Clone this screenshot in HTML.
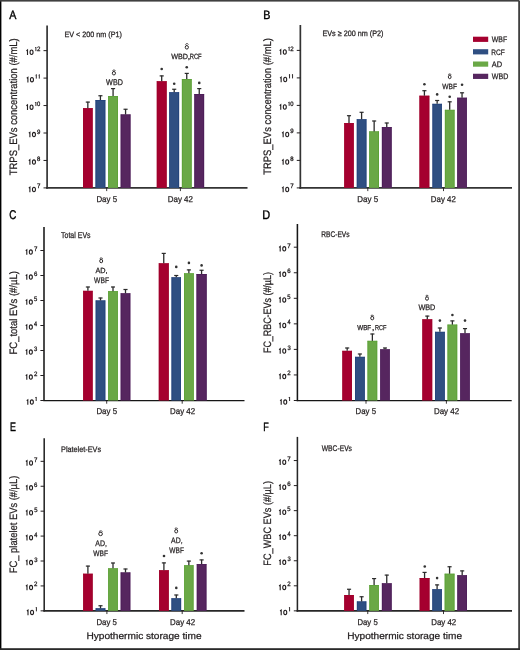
<!DOCTYPE html>
<html><head><meta charset="utf-8"><title>EV concentrations</title>
<style>
html,body{margin:0;padding:0;background:#fff;width:520px;height:650px;overflow:hidden;}
svg{display:block;text-rendering:geometricPrecision;will-change:transform;font-family:"Liberation Sans", sans-serif;}
text{stroke:#231f20;stroke-width:0.25px;}
</style></head>
<body>
<svg width="520" height="650" viewBox="0 0 520 650">
<rect x="0.00" y="0.00" width="520.00" height="650.00" fill="#ffffff"/>
<line x1="47.10" y1="25.50" x2="47.10" y2="188.80" stroke="#333" stroke-width="1.7"/>
<line x1="46.25" y1="187.90" x2="247.50" y2="187.90" stroke="#333" stroke-width="1.8"/>
<line x1="43.50" y1="187.90" x2="47.10" y2="187.90" stroke="#231f20" stroke-width="1.0"/>
<text transform="translate(36.98,188.40) scale(0.963,1)" font-family='"Liberation Sans", sans-serif' font-size="6.40" fill="#231f20" style="stroke-width:0.3px">7</text>
<path d="M29.90,192.25V187.19L28.79,188.07" fill="none" stroke="#231f20" stroke-width="1.1" stroke-linejoin="miter"/>
<ellipse cx="33.95" cy="189.50" rx="1.50" ry="2.20" fill="none" stroke="#231f20" stroke-width="1.1"/>
<line x1="43.50" y1="160.45" x2="47.10" y2="160.45" stroke="#231f20" stroke-width="1.0"/>
<text transform="translate(37.04,160.95) scale(0.947,1)" font-family='"Liberation Sans", sans-serif' font-size="6.30" fill="#231f20" style="stroke-width:0.3px">8</text>
<path d="M29.90,164.80V159.74L28.79,160.62" fill="none" stroke="#231f20" stroke-width="1.1" stroke-linejoin="miter"/>
<ellipse cx="33.95" cy="162.05" rx="1.50" ry="2.20" fill="none" stroke="#231f20" stroke-width="1.1"/>
<line x1="43.50" y1="133.00" x2="47.10" y2="133.00" stroke="#231f20" stroke-width="1.0"/>
<text transform="translate(37.02,133.50) scale(0.962,1)" font-family='"Liberation Sans", sans-serif' font-size="6.30" fill="#231f20" style="stroke-width:0.3px">9</text>
<path d="M29.90,137.35V132.29L28.79,133.17" fill="none" stroke="#231f20" stroke-width="1.1" stroke-linejoin="miter"/>
<ellipse cx="33.95" cy="134.60" rx="1.50" ry="2.20" fill="none" stroke="#231f20" stroke-width="1.1"/>
<line x1="43.50" y1="105.55" x2="47.10" y2="105.55" stroke="#231f20" stroke-width="1.0"/>
<text transform="translate(37.07,106.05) scale(0.930,1)" font-family='"Liberation Sans", sans-serif' font-size="6.30" fill="#231f20" style="stroke-width:0.3px">0</text>
<path d="M35.90,106.05V102.03L35.23,102.71" fill="none" stroke="#231f20" stroke-width="0.95" stroke-linejoin="miter"/>
<path d="M27.50,109.90V104.84L26.39,105.72" fill="none" stroke="#231f20" stroke-width="1.1" stroke-linejoin="miter"/>
<ellipse cx="31.55" cy="107.15" rx="1.50" ry="2.20" fill="none" stroke="#231f20" stroke-width="1.1"/>
<line x1="43.50" y1="78.10" x2="47.10" y2="78.10" stroke="#231f20" stroke-width="1.0"/>
<path d="M39.30,78.60V74.58L38.63,75.26" fill="none" stroke="#231f20" stroke-width="0.95" stroke-linejoin="miter"/>
<path d="M36.30,78.60V74.58L35.63,75.26" fill="none" stroke="#231f20" stroke-width="0.95" stroke-linejoin="miter"/>
<path d="M27.90,82.45V77.39L26.79,78.27" fill="none" stroke="#231f20" stroke-width="1.1" stroke-linejoin="miter"/>
<ellipse cx="31.95" cy="79.70" rx="1.50" ry="2.20" fill="none" stroke="#231f20" stroke-width="1.1"/>
<line x1="43.50" y1="50.65" x2="47.10" y2="50.65" stroke="#231f20" stroke-width="1.0"/>
<text transform="translate(36.99,51.15) scale(0.975,1)" font-family='"Liberation Sans", sans-serif' font-size="6.30" fill="#231f20" style="stroke-width:0.3px">2</text>
<path d="M35.90,51.15V47.13L35.23,47.81" fill="none" stroke="#231f20" stroke-width="0.95" stroke-linejoin="miter"/>
<path d="M27.50,55.00V49.94L26.39,50.82" fill="none" stroke="#231f20" stroke-width="1.1" stroke-linejoin="miter"/>
<ellipse cx="31.55" cy="52.25" rx="1.50" ry="2.20" fill="none" stroke="#231f20" stroke-width="1.1"/>
<line x1="106.70" y1="187.90" x2="106.70" y2="191.10" stroke="#231f20" stroke-width="0.9"/>
<line x1="180.40" y1="187.90" x2="180.40" y2="191.10" stroke="#231f20" stroke-width="0.9"/>
<rect x="83.05" y="108.15" width="9.55" height="79.75" fill="#a5002f"/>
<rect x="83.05" y="108.15" width="0.70" height="79.75" fill="#9e0029"/>
<rect x="91.90" y="108.15" width="0.70" height="79.75" fill="#9e0029"/>
<rect x="83.05" y="108.15" width="9.55" height="0.60" fill="#9e0029"/>
<line x1="87.83" y1="101.80" x2="87.83" y2="108.15" stroke="#2b2b2b" stroke-width="1.3"/>
<line x1="85.78" y1="102.10" x2="89.88" y2="102.10" stroke="#2b2b2b" stroke-width="1.2"/>
<rect x="95.55" y="100.00" width="9.75" height="87.90" fill="#2f4f82"/>
<rect x="95.55" y="100.00" width="0.70" height="87.90" fill="#1f3f7a"/>
<rect x="104.60" y="100.00" width="0.70" height="87.90" fill="#1f3f7a"/>
<rect x="95.55" y="100.00" width="9.75" height="0.60" fill="#1f3f7a"/>
<line x1="100.42" y1="95.45" x2="100.42" y2="100.00" stroke="#2b2b2b" stroke-width="1.3"/>
<line x1="98.38" y1="95.75" x2="102.47" y2="95.75" stroke="#2b2b2b" stroke-width="1.2"/>
<rect x="108.20" y="96.00" width="9.75" height="91.90" fill="#6aa846"/>
<rect x="108.20" y="96.00" width="0.70" height="91.90" fill="#58a032"/>
<rect x="117.25" y="96.00" width="0.70" height="91.90" fill="#58a032"/>
<rect x="108.20" y="96.00" width="9.75" height="0.60" fill="#58a032"/>
<line x1="113.08" y1="88.30" x2="113.08" y2="96.00" stroke="#2b2b2b" stroke-width="1.3"/>
<line x1="111.03" y1="88.60" x2="115.12" y2="88.60" stroke="#2b2b2b" stroke-width="1.2"/>
<rect x="120.70" y="114.50" width="9.75" height="73.40" fill="#56265f"/>
<rect x="120.70" y="114.50" width="0.70" height="73.40" fill="#4a1a56"/>
<rect x="129.75" y="114.50" width="0.70" height="73.40" fill="#4a1a56"/>
<rect x="120.70" y="114.50" width="9.75" height="0.60" fill="#4a1a56"/>
<line x1="125.57" y1="108.95" x2="125.57" y2="114.50" stroke="#2b2b2b" stroke-width="1.3"/>
<line x1="123.52" y1="109.25" x2="127.62" y2="109.25" stroke="#2b2b2b" stroke-width="1.2"/>
<rect x="156.80" y="81.25" width="9.80" height="106.65" fill="#a5002f"/>
<rect x="156.80" y="81.25" width="0.70" height="106.65" fill="#9e0029"/>
<rect x="165.90" y="81.25" width="0.70" height="106.65" fill="#9e0029"/>
<rect x="156.80" y="81.25" width="9.80" height="0.60" fill="#9e0029"/>
<line x1="161.70" y1="75.60" x2="161.70" y2="81.25" stroke="#2b2b2b" stroke-width="1.3"/>
<line x1="159.65" y1="75.90" x2="163.75" y2="75.90" stroke="#2b2b2b" stroke-width="1.2"/>
<rect x="169.30" y="92.25" width="9.80" height="95.65" fill="#2f4f82"/>
<rect x="169.30" y="92.25" width="0.70" height="95.65" fill="#1f3f7a"/>
<rect x="178.40" y="92.25" width="0.70" height="95.65" fill="#1f3f7a"/>
<rect x="169.30" y="92.25" width="9.80" height="0.60" fill="#1f3f7a"/>
<line x1="174.20" y1="88.95" x2="174.20" y2="92.25" stroke="#2b2b2b" stroke-width="1.3"/>
<line x1="172.15" y1="89.25" x2="176.25" y2="89.25" stroke="#2b2b2b" stroke-width="1.2"/>
<rect x="181.90" y="79.00" width="9.70" height="108.90" fill="#6aa846"/>
<rect x="181.90" y="79.00" width="0.70" height="108.90" fill="#58a032"/>
<rect x="190.90" y="79.00" width="0.70" height="108.90" fill="#58a032"/>
<rect x="181.90" y="79.00" width="9.70" height="0.60" fill="#58a032"/>
<line x1="186.75" y1="73.10" x2="186.75" y2="79.00" stroke="#2b2b2b" stroke-width="1.3"/>
<line x1="184.70" y1="73.40" x2="188.80" y2="73.40" stroke="#2b2b2b" stroke-width="1.2"/>
<rect x="194.40" y="94.00" width="9.70" height="93.90" fill="#56265f"/>
<rect x="194.40" y="94.00" width="0.70" height="93.90" fill="#4a1a56"/>
<rect x="203.40" y="94.00" width="0.70" height="93.90" fill="#4a1a56"/>
<rect x="194.40" y="94.00" width="9.70" height="0.60" fill="#4a1a56"/>
<line x1="199.25" y1="88.30" x2="199.25" y2="94.00" stroke="#2b2b2b" stroke-width="1.3"/>
<line x1="197.20" y1="88.60" x2="201.30" y2="88.60" stroke="#2b2b2b" stroke-width="1.2"/>
<circle cx="161.70" cy="69.00" r="1.3" fill="#333"/>
<circle cx="174.20" cy="83.75" r="1.3" fill="#333"/>
<circle cx="186.75" cy="67.25" r="1.3" fill="#333"/>
<circle cx="199.25" cy="82.90" r="1.3" fill="#333"/>
<line x1="300.35" y1="25.00" x2="300.35" y2="188.80" stroke="#333" stroke-width="1.7"/>
<line x1="299.50" y1="187.90" x2="512.00" y2="187.90" stroke="#333" stroke-width="1.8"/>
<line x1="296.75" y1="187.90" x2="300.35" y2="187.90" stroke="#231f20" stroke-width="1.0"/>
<text transform="translate(290.23,188.40) scale(0.963,1)" font-family='"Liberation Sans", sans-serif' font-size="6.40" fill="#231f20" style="stroke-width:0.3px">7</text>
<path d="M283.15,192.25V187.19L282.03,188.07" fill="none" stroke="#231f20" stroke-width="1.1" stroke-linejoin="miter"/>
<ellipse cx="287.20" cy="189.50" rx="1.50" ry="2.20" fill="none" stroke="#231f20" stroke-width="1.1"/>
<line x1="296.75" y1="160.40" x2="300.35" y2="160.40" stroke="#231f20" stroke-width="1.0"/>
<text transform="translate(290.29,160.90) scale(0.947,1)" font-family='"Liberation Sans", sans-serif' font-size="6.30" fill="#231f20" style="stroke-width:0.3px">8</text>
<path d="M283.15,164.75V159.69L282.03,160.57" fill="none" stroke="#231f20" stroke-width="1.1" stroke-linejoin="miter"/>
<ellipse cx="287.20" cy="162.00" rx="1.50" ry="2.20" fill="none" stroke="#231f20" stroke-width="1.1"/>
<line x1="296.75" y1="132.90" x2="300.35" y2="132.90" stroke="#231f20" stroke-width="1.0"/>
<text transform="translate(290.27,133.40) scale(0.962,1)" font-family='"Liberation Sans", sans-serif' font-size="6.30" fill="#231f20" style="stroke-width:0.3px">9</text>
<path d="M283.15,137.25V132.19L282.03,133.07" fill="none" stroke="#231f20" stroke-width="1.1" stroke-linejoin="miter"/>
<ellipse cx="287.20" cy="134.50" rx="1.50" ry="2.20" fill="none" stroke="#231f20" stroke-width="1.1"/>
<line x1="296.75" y1="105.40" x2="300.35" y2="105.40" stroke="#231f20" stroke-width="1.0"/>
<text transform="translate(290.32,105.90) scale(0.930,1)" font-family='"Liberation Sans", sans-serif' font-size="6.30" fill="#231f20" style="stroke-width:0.3px">0</text>
<path d="M289.15,105.90V101.88L288.48,102.56" fill="none" stroke="#231f20" stroke-width="0.95" stroke-linejoin="miter"/>
<path d="M280.75,109.75V104.69L279.63,105.57" fill="none" stroke="#231f20" stroke-width="1.1" stroke-linejoin="miter"/>
<ellipse cx="284.80" cy="107.00" rx="1.50" ry="2.20" fill="none" stroke="#231f20" stroke-width="1.1"/>
<line x1="296.75" y1="77.90" x2="300.35" y2="77.90" stroke="#231f20" stroke-width="1.0"/>
<path d="M292.55,78.40V74.38L291.88,75.06" fill="none" stroke="#231f20" stroke-width="0.95" stroke-linejoin="miter"/>
<path d="M289.55,78.40V74.38L288.88,75.06" fill="none" stroke="#231f20" stroke-width="0.95" stroke-linejoin="miter"/>
<path d="M281.15,82.25V77.19L280.03,78.07" fill="none" stroke="#231f20" stroke-width="1.1" stroke-linejoin="miter"/>
<ellipse cx="285.20" cy="79.50" rx="1.50" ry="2.20" fill="none" stroke="#231f20" stroke-width="1.1"/>
<line x1="296.75" y1="50.40" x2="300.35" y2="50.40" stroke="#231f20" stroke-width="1.0"/>
<text transform="translate(290.24,50.90) scale(0.975,1)" font-family='"Liberation Sans", sans-serif' font-size="6.30" fill="#231f20" style="stroke-width:0.3px">2</text>
<path d="M289.15,50.90V46.88L288.48,47.56" fill="none" stroke="#231f20" stroke-width="0.95" stroke-linejoin="miter"/>
<path d="M280.75,54.75V49.69L279.63,50.57" fill="none" stroke="#231f20" stroke-width="1.1" stroke-linejoin="miter"/>
<ellipse cx="284.80" cy="52.00" rx="1.50" ry="2.20" fill="none" stroke="#231f20" stroke-width="1.1"/>
<line x1="367.80" y1="187.90" x2="367.80" y2="191.10" stroke="#231f20" stroke-width="0.9"/>
<line x1="443.50" y1="187.90" x2="443.50" y2="191.10" stroke="#231f20" stroke-width="0.9"/>
<rect x="344.30" y="123.05" width="9.40" height="64.85" fill="#a5002f"/>
<rect x="344.30" y="123.05" width="0.70" height="64.85" fill="#9e0029"/>
<rect x="353.00" y="123.05" width="0.70" height="64.85" fill="#9e0029"/>
<rect x="344.30" y="123.05" width="9.40" height="0.60" fill="#9e0029"/>
<line x1="349.00" y1="115.40" x2="349.00" y2="123.05" stroke="#2b2b2b" stroke-width="1.3"/>
<line x1="346.95" y1="115.70" x2="351.05" y2="115.70" stroke="#2b2b2b" stroke-width="1.2"/>
<rect x="356.80" y="119.25" width="9.60" height="68.65" fill="#2f4f82"/>
<rect x="356.80" y="119.25" width="0.70" height="68.65" fill="#1f3f7a"/>
<rect x="365.70" y="119.25" width="0.70" height="68.65" fill="#1f3f7a"/>
<rect x="356.80" y="119.25" width="9.60" height="0.60" fill="#1f3f7a"/>
<line x1="361.60" y1="112.00" x2="361.60" y2="119.25" stroke="#2b2b2b" stroke-width="1.3"/>
<line x1="359.55" y1="112.30" x2="363.65" y2="112.30" stroke="#2b2b2b" stroke-width="1.2"/>
<rect x="369.30" y="131.45" width="9.70" height="56.45" fill="#6aa846"/>
<rect x="369.30" y="131.45" width="0.70" height="56.45" fill="#58a032"/>
<rect x="378.30" y="131.45" width="0.70" height="56.45" fill="#58a032"/>
<rect x="369.30" y="131.45" width="9.70" height="0.60" fill="#58a032"/>
<line x1="374.15" y1="120.70" x2="374.15" y2="131.45" stroke="#2b2b2b" stroke-width="1.3"/>
<line x1="372.10" y1="121.00" x2="376.20" y2="121.00" stroke="#2b2b2b" stroke-width="1.2"/>
<rect x="381.90" y="127.05" width="9.70" height="60.85" fill="#56265f"/>
<rect x="381.90" y="127.05" width="0.70" height="60.85" fill="#4a1a56"/>
<rect x="390.90" y="127.05" width="0.70" height="60.85" fill="#4a1a56"/>
<rect x="381.90" y="127.05" width="9.70" height="0.60" fill="#4a1a56"/>
<line x1="386.75" y1="122.70" x2="386.75" y2="127.05" stroke="#2b2b2b" stroke-width="1.3"/>
<line x1="384.70" y1="123.00" x2="388.80" y2="123.00" stroke="#2b2b2b" stroke-width="1.2"/>
<rect x="419.50" y="95.75" width="9.80" height="92.15" fill="#a5002f"/>
<rect x="419.50" y="95.75" width="0.70" height="92.15" fill="#9e0029"/>
<rect x="428.60" y="95.75" width="0.70" height="92.15" fill="#9e0029"/>
<rect x="419.50" y="95.75" width="9.80" height="0.60" fill="#9e0029"/>
<line x1="424.40" y1="90.40" x2="424.40" y2="95.75" stroke="#2b2b2b" stroke-width="1.3"/>
<line x1="422.35" y1="90.70" x2="426.45" y2="90.70" stroke="#2b2b2b" stroke-width="1.2"/>
<rect x="432.50" y="103.85" width="9.30" height="84.05" fill="#2f4f82"/>
<rect x="432.50" y="103.85" width="0.70" height="84.05" fill="#1f3f7a"/>
<rect x="441.10" y="103.85" width="0.70" height="84.05" fill="#1f3f7a"/>
<rect x="432.50" y="103.85" width="9.30" height="0.60" fill="#1f3f7a"/>
<line x1="437.15" y1="100.20" x2="437.15" y2="103.85" stroke="#2b2b2b" stroke-width="1.3"/>
<line x1="435.10" y1="100.50" x2="439.20" y2="100.50" stroke="#2b2b2b" stroke-width="1.2"/>
<rect x="444.90" y="109.85" width="9.60" height="78.05" fill="#6aa846"/>
<rect x="444.90" y="109.85" width="0.70" height="78.05" fill="#58a032"/>
<rect x="453.80" y="109.85" width="0.70" height="78.05" fill="#58a032"/>
<rect x="444.90" y="109.85" width="9.60" height="0.60" fill="#58a032"/>
<line x1="449.70" y1="101.50" x2="449.70" y2="109.85" stroke="#2b2b2b" stroke-width="1.3"/>
<line x1="447.65" y1="101.80" x2="451.75" y2="101.80" stroke="#2b2b2b" stroke-width="1.2"/>
<rect x="457.30" y="97.75" width="9.50" height="90.15" fill="#56265f"/>
<rect x="457.30" y="97.75" width="0.70" height="90.15" fill="#4a1a56"/>
<rect x="466.10" y="97.75" width="0.70" height="90.15" fill="#4a1a56"/>
<rect x="457.30" y="97.75" width="9.50" height="0.60" fill="#4a1a56"/>
<line x1="462.05" y1="92.50" x2="462.05" y2="97.75" stroke="#2b2b2b" stroke-width="1.3"/>
<line x1="460.00" y1="92.80" x2="464.10" y2="92.80" stroke="#2b2b2b" stroke-width="1.2"/>
<circle cx="424.40" cy="84.20" r="1.3" fill="#333"/>
<circle cx="437.15" cy="94.40" r="1.3" fill="#333"/>
<circle cx="449.70" cy="96.70" r="1.3" fill="#333"/>
<circle cx="462.05" cy="84.80" r="1.3" fill="#333"/>
<rect x="473.00" y="36.70" width="15.20" height="5.20" fill="#a5002f"/>
<text transform="translate(491.77,42.10) scale(0.868,1)" font-family='"Liberation Sans", sans-serif' font-size="7.99" fill="#231f20">WBF</text>
<rect x="473.00" y="49.20" width="15.20" height="5.20" fill="#2f4f82"/>
<text transform="translate(491.26,54.60) scale(0.834,1)" font-family='"Liberation Sans", sans-serif' font-size="7.88" fill="#231f20">RCF</text>
<rect x="473.00" y="61.50" width="15.20" height="5.20" fill="#6aa846"/>
<text transform="translate(491.79,66.90) scale(0.934,1)" font-family='"Liberation Sans", sans-serif' font-size="7.99" fill="#231f20">AD</text>
<rect x="473.00" y="73.75" width="15.20" height="5.20" fill="#56265f"/>
<text transform="translate(491.77,79.15) scale(0.883,1)" font-family='"Liberation Sans", sans-serif' font-size="7.99" fill="#231f20">WBD</text>
<line x1="44.00" y1="227.00" x2="44.00" y2="401.12" stroke="#161616" stroke-width="1.55"/>
<line x1="43.23" y1="400.50" x2="244.50" y2="400.50" stroke="#161616" stroke-width="1.25"/>
<line x1="40.40" y1="400.50" x2="44.00" y2="400.50" stroke="#231f20" stroke-width="1.0"/>
<path d="M36.20,401.00V396.98L35.53,397.66" fill="none" stroke="#231f20" stroke-width="0.95" stroke-linejoin="miter"/>
<path d="M27.80,404.85V399.79L26.69,400.67" fill="none" stroke="#231f20" stroke-width="1.1" stroke-linejoin="miter"/>
<ellipse cx="31.85" cy="402.10" rx="1.50" ry="2.20" fill="none" stroke="#231f20" stroke-width="1.1"/>
<line x1="40.40" y1="375.50" x2="44.00" y2="375.50" stroke="#231f20" stroke-width="1.0"/>
<text transform="translate(33.89,376.00) scale(0.975,1)" font-family='"Liberation Sans", sans-serif' font-size="6.30" fill="#231f20" style="stroke-width:0.3px">2</text>
<path d="M26.80,379.85V374.79L25.69,375.67" fill="none" stroke="#231f20" stroke-width="1.1" stroke-linejoin="miter"/>
<ellipse cx="30.85" cy="377.10" rx="1.50" ry="2.20" fill="none" stroke="#231f20" stroke-width="1.1"/>
<line x1="40.40" y1="350.50" x2="44.00" y2="350.50" stroke="#231f20" stroke-width="1.0"/>
<text transform="translate(33.98,351.00) scale(0.937,1)" font-family='"Liberation Sans", sans-serif' font-size="6.30" fill="#231f20" style="stroke-width:0.3px">3</text>
<path d="M26.80,354.85V349.79L25.69,350.67" fill="none" stroke="#231f20" stroke-width="1.1" stroke-linejoin="miter"/>
<ellipse cx="30.85" cy="352.10" rx="1.50" ry="2.20" fill="none" stroke="#231f20" stroke-width="1.1"/>
<line x1="40.40" y1="325.50" x2="44.00" y2="325.50" stroke="#231f20" stroke-width="1.0"/>
<text transform="translate(34.07,326.00) scale(0.869,1)" font-family='"Liberation Sans", sans-serif' font-size="6.40" fill="#231f20" style="stroke-width:0.3px">4</text>
<path d="M26.80,329.85V324.79L25.69,325.67" fill="none" stroke="#231f20" stroke-width="1.1" stroke-linejoin="miter"/>
<ellipse cx="30.85" cy="327.10" rx="1.50" ry="2.20" fill="none" stroke="#231f20" stroke-width="1.1"/>
<line x1="40.40" y1="300.50" x2="44.00" y2="300.50" stroke="#231f20" stroke-width="1.0"/>
<text transform="translate(33.96,301.00) scale(0.923,1)" font-family='"Liberation Sans", sans-serif' font-size="6.40" fill="#231f20" style="stroke-width:0.3px">5</text>
<path d="M26.80,304.85V299.79L25.69,300.67" fill="none" stroke="#231f20" stroke-width="1.1" stroke-linejoin="miter"/>
<ellipse cx="30.85" cy="302.10" rx="1.50" ry="2.20" fill="none" stroke="#231f20" stroke-width="1.1"/>
<line x1="40.40" y1="275.50" x2="44.00" y2="275.50" stroke="#231f20" stroke-width="1.0"/>
<text transform="translate(33.89,276.00) scale(0.963,1)" font-family='"Liberation Sans", sans-serif' font-size="6.30" fill="#231f20" style="stroke-width:0.3px">6</text>
<path d="M26.80,279.85V274.79L25.69,275.67" fill="none" stroke="#231f20" stroke-width="1.1" stroke-linejoin="miter"/>
<ellipse cx="30.85" cy="277.10" rx="1.50" ry="2.20" fill="none" stroke="#231f20" stroke-width="1.1"/>
<line x1="40.40" y1="250.50" x2="44.00" y2="250.50" stroke="#231f20" stroke-width="1.0"/>
<text transform="translate(33.88,251.00) scale(0.963,1)" font-family='"Liberation Sans", sans-serif' font-size="6.40" fill="#231f20" style="stroke-width:0.3px">7</text>
<path d="M26.80,254.85V249.79L25.69,250.67" fill="none" stroke="#231f20" stroke-width="1.1" stroke-linejoin="miter"/>
<ellipse cx="30.85" cy="252.10" rx="1.50" ry="2.20" fill="none" stroke="#231f20" stroke-width="1.1"/>
<line x1="106.70" y1="400.50" x2="106.70" y2="403.70" stroke="#231f20" stroke-width="0.9"/>
<line x1="182.20" y1="400.50" x2="182.20" y2="403.70" stroke="#231f20" stroke-width="0.9"/>
<rect x="83.20" y="290.85" width="9.40" height="109.65" fill="#a5002f"/>
<rect x="83.20" y="290.85" width="0.70" height="109.65" fill="#9e0029"/>
<rect x="91.90" y="290.85" width="0.70" height="109.65" fill="#9e0029"/>
<rect x="83.20" y="290.85" width="9.40" height="0.60" fill="#9e0029"/>
<line x1="87.90" y1="286.70" x2="87.90" y2="290.85" stroke="#2b2b2b" stroke-width="1.3"/>
<line x1="85.85" y1="287.00" x2="89.95" y2="287.00" stroke="#2b2b2b" stroke-width="1.2"/>
<rect x="95.70" y="300.50" width="9.60" height="100.00" fill="#2f4f82"/>
<rect x="95.70" y="300.50" width="0.70" height="100.00" fill="#1f3f7a"/>
<rect x="104.60" y="300.50" width="0.70" height="100.00" fill="#1f3f7a"/>
<rect x="95.70" y="300.50" width="9.60" height="0.60" fill="#1f3f7a"/>
<line x1="100.50" y1="297.70" x2="100.50" y2="300.50" stroke="#2b2b2b" stroke-width="1.3"/>
<line x1="98.45" y1="298.00" x2="102.55" y2="298.00" stroke="#2b2b2b" stroke-width="1.2"/>
<rect x="108.20" y="291.15" width="9.60" height="109.35" fill="#6aa846"/>
<rect x="108.20" y="291.15" width="0.70" height="109.35" fill="#58a032"/>
<rect x="117.10" y="291.15" width="0.70" height="109.35" fill="#58a032"/>
<rect x="108.20" y="291.15" width="9.60" height="0.60" fill="#58a032"/>
<line x1="113.00" y1="286.70" x2="113.00" y2="291.15" stroke="#2b2b2b" stroke-width="1.3"/>
<line x1="110.95" y1="287.00" x2="115.05" y2="287.00" stroke="#2b2b2b" stroke-width="1.2"/>
<rect x="120.70" y="293.35" width="9.60" height="107.15" fill="#56265f"/>
<rect x="120.70" y="293.35" width="0.70" height="107.15" fill="#4a1a56"/>
<rect x="129.60" y="293.35" width="0.70" height="107.15" fill="#4a1a56"/>
<rect x="120.70" y="293.35" width="9.60" height="0.60" fill="#4a1a56"/>
<line x1="125.50" y1="289.20" x2="125.50" y2="293.35" stroke="#2b2b2b" stroke-width="1.3"/>
<line x1="123.45" y1="289.50" x2="127.55" y2="289.50" stroke="#2b2b2b" stroke-width="1.2"/>
<rect x="158.80" y="263.35" width="9.90" height="137.15" fill="#a5002f"/>
<rect x="158.80" y="263.35" width="0.70" height="137.15" fill="#9e0029"/>
<rect x="168.00" y="263.35" width="0.70" height="137.15" fill="#9e0029"/>
<rect x="158.80" y="263.35" width="9.90" height="0.60" fill="#9e0029"/>
<line x1="163.75" y1="253.10" x2="163.75" y2="263.35" stroke="#2b2b2b" stroke-width="1.3"/>
<line x1="161.70" y1="253.40" x2="165.80" y2="253.40" stroke="#2b2b2b" stroke-width="1.2"/>
<rect x="171.55" y="277.35" width="9.40" height="123.15" fill="#2f4f82"/>
<rect x="171.55" y="277.35" width="0.70" height="123.15" fill="#1f3f7a"/>
<rect x="180.25" y="277.35" width="0.70" height="123.15" fill="#1f3f7a"/>
<rect x="171.55" y="277.35" width="9.40" height="0.60" fill="#1f3f7a"/>
<line x1="176.25" y1="275.20" x2="176.25" y2="277.35" stroke="#2b2b2b" stroke-width="1.3"/>
<line x1="174.20" y1="275.50" x2="178.30" y2="275.50" stroke="#2b2b2b" stroke-width="1.2"/>
<rect x="184.05" y="273.35" width="9.65" height="127.15" fill="#6aa846"/>
<rect x="184.05" y="273.35" width="0.70" height="127.15" fill="#58a032"/>
<rect x="193.00" y="273.35" width="0.70" height="127.15" fill="#58a032"/>
<rect x="184.05" y="273.35" width="9.65" height="0.60" fill="#58a032"/>
<line x1="188.88" y1="269.60" x2="188.88" y2="273.35" stroke="#2b2b2b" stroke-width="1.3"/>
<line x1="186.82" y1="269.90" x2="190.93" y2="269.90" stroke="#2b2b2b" stroke-width="1.2"/>
<rect x="196.55" y="274.00" width="10.05" height="126.50" fill="#56265f"/>
<rect x="196.55" y="274.00" width="0.70" height="126.50" fill="#4a1a56"/>
<rect x="205.90" y="274.00" width="0.70" height="126.50" fill="#4a1a56"/>
<rect x="196.55" y="274.00" width="10.05" height="0.60" fill="#4a1a56"/>
<line x1="201.57" y1="269.95" x2="201.57" y2="274.00" stroke="#2b2b2b" stroke-width="1.3"/>
<line x1="199.52" y1="270.25" x2="203.62" y2="270.25" stroke="#2b2b2b" stroke-width="1.2"/>
<circle cx="176.25" cy="266.90" r="1.3" fill="#333"/>
<circle cx="188.90" cy="262.90" r="1.3" fill="#333"/>
<circle cx="201.60" cy="265.40" r="1.3" fill="#333"/>
<line x1="297.40" y1="224.00" x2="297.40" y2="401.12" stroke="#161616" stroke-width="1.55"/>
<line x1="296.62" y1="400.50" x2="511.70" y2="400.50" stroke="#161616" stroke-width="1.25"/>
<line x1="293.80" y1="400.50" x2="297.40" y2="400.50" stroke="#231f20" stroke-width="1.0"/>
<path d="M289.60,401.00V396.98L288.93,397.66" fill="none" stroke="#231f20" stroke-width="0.95" stroke-linejoin="miter"/>
<path d="M281.20,404.85V399.79L280.08,400.67" fill="none" stroke="#231f20" stroke-width="1.1" stroke-linejoin="miter"/>
<ellipse cx="285.25" cy="402.10" rx="1.50" ry="2.20" fill="none" stroke="#231f20" stroke-width="1.1"/>
<line x1="293.80" y1="374.95" x2="297.40" y2="374.95" stroke="#231f20" stroke-width="1.0"/>
<text transform="translate(287.29,375.45) scale(0.975,1)" font-family='"Liberation Sans", sans-serif' font-size="6.30" fill="#231f20" style="stroke-width:0.3px">2</text>
<path d="M280.20,379.30V374.24L279.08,375.12" fill="none" stroke="#231f20" stroke-width="1.1" stroke-linejoin="miter"/>
<ellipse cx="284.25" cy="376.55" rx="1.50" ry="2.20" fill="none" stroke="#231f20" stroke-width="1.1"/>
<line x1="293.80" y1="349.40" x2="297.40" y2="349.40" stroke="#231f20" stroke-width="1.0"/>
<text transform="translate(287.38,349.90) scale(0.937,1)" font-family='"Liberation Sans", sans-serif' font-size="6.30" fill="#231f20" style="stroke-width:0.3px">3</text>
<path d="M280.20,353.75V348.69L279.08,349.57" fill="none" stroke="#231f20" stroke-width="1.1" stroke-linejoin="miter"/>
<ellipse cx="284.25" cy="351.00" rx="1.50" ry="2.20" fill="none" stroke="#231f20" stroke-width="1.1"/>
<line x1="293.80" y1="323.85" x2="297.40" y2="323.85" stroke="#231f20" stroke-width="1.0"/>
<text transform="translate(287.47,324.35) scale(0.869,1)" font-family='"Liberation Sans", sans-serif' font-size="6.40" fill="#231f20" style="stroke-width:0.3px">4</text>
<path d="M280.20,328.20V323.14L279.08,324.02" fill="none" stroke="#231f20" stroke-width="1.1" stroke-linejoin="miter"/>
<ellipse cx="284.25" cy="325.45" rx="1.50" ry="2.20" fill="none" stroke="#231f20" stroke-width="1.1"/>
<line x1="293.80" y1="298.30" x2="297.40" y2="298.30" stroke="#231f20" stroke-width="1.0"/>
<text transform="translate(287.36,298.80) scale(0.923,1)" font-family='"Liberation Sans", sans-serif' font-size="6.40" fill="#231f20" style="stroke-width:0.3px">5</text>
<path d="M280.20,302.65V297.59L279.08,298.47" fill="none" stroke="#231f20" stroke-width="1.1" stroke-linejoin="miter"/>
<ellipse cx="284.25" cy="299.90" rx="1.50" ry="2.20" fill="none" stroke="#231f20" stroke-width="1.1"/>
<line x1="293.80" y1="272.75" x2="297.40" y2="272.75" stroke="#231f20" stroke-width="1.0"/>
<text transform="translate(287.29,273.25) scale(0.963,1)" font-family='"Liberation Sans", sans-serif' font-size="6.30" fill="#231f20" style="stroke-width:0.3px">6</text>
<path d="M280.20,277.10V272.04L279.08,272.92" fill="none" stroke="#231f20" stroke-width="1.1" stroke-linejoin="miter"/>
<ellipse cx="284.25" cy="274.35" rx="1.50" ry="2.20" fill="none" stroke="#231f20" stroke-width="1.1"/>
<line x1="293.80" y1="247.20" x2="297.40" y2="247.20" stroke="#231f20" stroke-width="1.0"/>
<text transform="translate(287.28,247.70) scale(0.963,1)" font-family='"Liberation Sans", sans-serif' font-size="6.40" fill="#231f20" style="stroke-width:0.3px">7</text>
<path d="M280.20,251.55V246.49L279.08,247.37" fill="none" stroke="#231f20" stroke-width="1.1" stroke-linejoin="miter"/>
<ellipse cx="284.25" cy="248.80" rx="1.50" ry="2.20" fill="none" stroke="#231f20" stroke-width="1.1"/>
<line x1="366.00" y1="400.50" x2="366.00" y2="403.70" stroke="#231f20" stroke-width="0.9"/>
<line x1="446.40" y1="400.50" x2="446.40" y2="403.70" stroke="#231f20" stroke-width="0.9"/>
<rect x="342.40" y="350.85" width="9.55" height="49.65" fill="#a5002f"/>
<rect x="342.40" y="350.85" width="0.70" height="49.65" fill="#9e0029"/>
<rect x="351.25" y="350.85" width="0.70" height="49.65" fill="#9e0029"/>
<rect x="342.40" y="350.85" width="9.55" height="0.60" fill="#9e0029"/>
<line x1="347.18" y1="347.70" x2="347.18" y2="350.85" stroke="#2b2b2b" stroke-width="1.3"/>
<line x1="345.12" y1="348.00" x2="349.23" y2="348.00" stroke="#2b2b2b" stroke-width="1.2"/>
<rect x="355.05" y="356.85" width="9.65" height="43.65" fill="#2f4f82"/>
<rect x="355.05" y="356.85" width="0.70" height="43.65" fill="#1f3f7a"/>
<rect x="364.00" y="356.85" width="0.70" height="43.65" fill="#1f3f7a"/>
<rect x="355.05" y="356.85" width="9.65" height="0.60" fill="#1f3f7a"/>
<line x1="359.88" y1="353.70" x2="359.88" y2="356.85" stroke="#2b2b2b" stroke-width="1.3"/>
<line x1="357.82" y1="354.00" x2="361.93" y2="354.00" stroke="#2b2b2b" stroke-width="1.2"/>
<rect x="367.55" y="340.85" width="9.65" height="59.65" fill="#6aa846"/>
<rect x="367.55" y="340.85" width="0.70" height="59.65" fill="#58a032"/>
<rect x="376.50" y="340.85" width="0.70" height="59.65" fill="#58a032"/>
<rect x="367.55" y="340.85" width="9.65" height="0.60" fill="#58a032"/>
<line x1="372.38" y1="333.70" x2="372.38" y2="340.85" stroke="#2b2b2b" stroke-width="1.3"/>
<line x1="370.32" y1="334.00" x2="374.43" y2="334.00" stroke="#2b2b2b" stroke-width="1.2"/>
<rect x="380.30" y="349.35" width="9.40" height="51.15" fill="#56265f"/>
<rect x="380.30" y="349.35" width="0.70" height="51.15" fill="#4a1a56"/>
<rect x="389.00" y="349.35" width="0.70" height="51.15" fill="#4a1a56"/>
<rect x="380.30" y="349.35" width="9.40" height="0.60" fill="#4a1a56"/>
<line x1="385.00" y1="347.70" x2="385.00" y2="349.35" stroke="#2b2b2b" stroke-width="1.3"/>
<line x1="382.95" y1="348.00" x2="387.05" y2="348.00" stroke="#2b2b2b" stroke-width="1.2"/>
<rect x="422.40" y="319.35" width="9.80" height="81.15" fill="#a5002f"/>
<rect x="422.40" y="319.35" width="0.70" height="81.15" fill="#9e0029"/>
<rect x="431.50" y="319.35" width="0.70" height="81.15" fill="#9e0029"/>
<rect x="422.40" y="319.35" width="9.80" height="0.60" fill="#9e0029"/>
<line x1="427.30" y1="315.80" x2="427.30" y2="319.35" stroke="#2b2b2b" stroke-width="1.3"/>
<line x1="425.25" y1="316.10" x2="429.35" y2="316.10" stroke="#2b2b2b" stroke-width="1.2"/>
<rect x="435.05" y="331.85" width="9.65" height="68.65" fill="#2f4f82"/>
<rect x="435.05" y="331.85" width="0.70" height="68.65" fill="#1f3f7a"/>
<rect x="444.00" y="331.85" width="0.70" height="68.65" fill="#1f3f7a"/>
<rect x="435.05" y="331.85" width="9.65" height="0.60" fill="#1f3f7a"/>
<line x1="439.88" y1="327.70" x2="439.88" y2="331.85" stroke="#2b2b2b" stroke-width="1.3"/>
<line x1="437.82" y1="328.00" x2="441.93" y2="328.00" stroke="#2b2b2b" stroke-width="1.2"/>
<rect x="447.55" y="324.65" width="9.65" height="75.85" fill="#6aa846"/>
<rect x="447.55" y="324.65" width="0.70" height="75.85" fill="#58a032"/>
<rect x="456.50" y="324.65" width="0.70" height="75.85" fill="#58a032"/>
<rect x="447.55" y="324.65" width="9.65" height="0.60" fill="#58a032"/>
<line x1="452.38" y1="320.60" x2="452.38" y2="324.65" stroke="#2b2b2b" stroke-width="1.3"/>
<line x1="450.32" y1="320.90" x2="454.43" y2="320.90" stroke="#2b2b2b" stroke-width="1.2"/>
<rect x="460.30" y="333.35" width="9.40" height="67.15" fill="#56265f"/>
<rect x="460.30" y="333.35" width="0.70" height="67.15" fill="#4a1a56"/>
<rect x="469.00" y="333.35" width="0.70" height="67.15" fill="#4a1a56"/>
<rect x="460.30" y="333.35" width="9.40" height="0.60" fill="#4a1a56"/>
<line x1="465.00" y1="328.30" x2="465.00" y2="333.35" stroke="#2b2b2b" stroke-width="1.3"/>
<line x1="462.95" y1="328.60" x2="467.05" y2="328.60" stroke="#2b2b2b" stroke-width="1.2"/>
<circle cx="439.90" cy="320.60" r="1.3" fill="#333"/>
<circle cx="452.40" cy="315.00" r="1.3" fill="#333"/>
<circle cx="465.00" cy="320.60" r="1.3" fill="#333"/>
<line x1="44.20" y1="438.30" x2="44.20" y2="611.62" stroke="#262626" stroke-width="1.55"/>
<line x1="43.43" y1="610.85" x2="244.50" y2="610.85" stroke="#262626" stroke-width="1.55"/>
<line x1="40.60" y1="610.85" x2="44.20" y2="610.85" stroke="#231f20" stroke-width="1.0"/>
<path d="M36.40,611.35V607.33L35.73,608.01" fill="none" stroke="#231f20" stroke-width="0.95" stroke-linejoin="miter"/>
<path d="M28.00,615.20V610.14L26.89,611.02" fill="none" stroke="#231f20" stroke-width="1.1" stroke-linejoin="miter"/>
<ellipse cx="32.05" cy="612.45" rx="1.50" ry="2.20" fill="none" stroke="#231f20" stroke-width="1.1"/>
<line x1="40.60" y1="585.93" x2="44.20" y2="585.93" stroke="#231f20" stroke-width="1.0"/>
<text transform="translate(34.09,586.43) scale(0.975,1)" font-family='"Liberation Sans", sans-serif' font-size="6.30" fill="#231f20" style="stroke-width:0.3px">2</text>
<path d="M27.00,590.28V585.22L25.89,586.10" fill="none" stroke="#231f20" stroke-width="1.1" stroke-linejoin="miter"/>
<ellipse cx="31.05" cy="587.53" rx="1.50" ry="2.20" fill="none" stroke="#231f20" stroke-width="1.1"/>
<line x1="40.60" y1="561.01" x2="44.20" y2="561.01" stroke="#231f20" stroke-width="1.0"/>
<text transform="translate(34.18,561.51) scale(0.937,1)" font-family='"Liberation Sans", sans-serif' font-size="6.30" fill="#231f20" style="stroke-width:0.3px">3</text>
<path d="M27.00,565.36V560.30L25.89,561.18" fill="none" stroke="#231f20" stroke-width="1.1" stroke-linejoin="miter"/>
<ellipse cx="31.05" cy="562.61" rx="1.50" ry="2.20" fill="none" stroke="#231f20" stroke-width="1.1"/>
<line x1="40.60" y1="536.09" x2="44.20" y2="536.09" stroke="#231f20" stroke-width="1.0"/>
<text transform="translate(34.27,536.59) scale(0.869,1)" font-family='"Liberation Sans", sans-serif' font-size="6.40" fill="#231f20" style="stroke-width:0.3px">4</text>
<path d="M27.00,540.44V535.38L25.89,536.26" fill="none" stroke="#231f20" stroke-width="1.1" stroke-linejoin="miter"/>
<ellipse cx="31.05" cy="537.69" rx="1.50" ry="2.20" fill="none" stroke="#231f20" stroke-width="1.1"/>
<line x1="40.60" y1="511.17" x2="44.20" y2="511.17" stroke="#231f20" stroke-width="1.0"/>
<text transform="translate(34.16,511.67) scale(0.923,1)" font-family='"Liberation Sans", sans-serif' font-size="6.40" fill="#231f20" style="stroke-width:0.3px">5</text>
<path d="M27.00,515.52V510.46L25.89,511.34" fill="none" stroke="#231f20" stroke-width="1.1" stroke-linejoin="miter"/>
<ellipse cx="31.05" cy="512.77" rx="1.50" ry="2.20" fill="none" stroke="#231f20" stroke-width="1.1"/>
<line x1="40.60" y1="486.25" x2="44.20" y2="486.25" stroke="#231f20" stroke-width="1.0"/>
<text transform="translate(34.09,486.75) scale(0.963,1)" font-family='"Liberation Sans", sans-serif' font-size="6.30" fill="#231f20" style="stroke-width:0.3px">6</text>
<path d="M27.00,490.60V485.54L25.89,486.42" fill="none" stroke="#231f20" stroke-width="1.1" stroke-linejoin="miter"/>
<ellipse cx="31.05" cy="487.85" rx="1.50" ry="2.20" fill="none" stroke="#231f20" stroke-width="1.1"/>
<line x1="40.60" y1="461.33" x2="44.20" y2="461.33" stroke="#231f20" stroke-width="1.0"/>
<text transform="translate(34.08,461.83) scale(0.963,1)" font-family='"Liberation Sans", sans-serif' font-size="6.40" fill="#231f20" style="stroke-width:0.3px">7</text>
<path d="M27.00,465.68V460.62L25.89,461.50" fill="none" stroke="#231f20" stroke-width="1.1" stroke-linejoin="miter"/>
<ellipse cx="31.05" cy="462.93" rx="1.50" ry="2.20" fill="none" stroke="#231f20" stroke-width="1.1"/>
<line x1="106.90" y1="610.85" x2="106.90" y2="614.05" stroke="#231f20" stroke-width="0.9"/>
<line x1="182.20" y1="610.85" x2="182.20" y2="614.05" stroke="#231f20" stroke-width="0.9"/>
<rect x="83.20" y="573.75" width="9.40" height="37.10" fill="#a5002f"/>
<rect x="83.20" y="573.75" width="0.70" height="37.10" fill="#9e0029"/>
<rect x="91.90" y="573.75" width="0.70" height="37.10" fill="#9e0029"/>
<rect x="83.20" y="573.75" width="9.40" height="0.60" fill="#9e0029"/>
<line x1="87.90" y1="565.80" x2="87.90" y2="573.75" stroke="#2b2b2b" stroke-width="1.3"/>
<line x1="85.85" y1="566.10" x2="89.95" y2="566.10" stroke="#2b2b2b" stroke-width="1.2"/>
<rect x="95.70" y="608.35" width="9.60" height="2.50" fill="#2f4f82"/>
<rect x="95.70" y="608.35" width="0.70" height="2.50" fill="#1f3f7a"/>
<rect x="104.60" y="608.35" width="0.70" height="2.50" fill="#1f3f7a"/>
<rect x="95.70" y="608.35" width="9.60" height="0.60" fill="#1f3f7a"/>
<line x1="100.50" y1="605.45" x2="100.50" y2="608.35" stroke="#2b2b2b" stroke-width="1.3"/>
<line x1="98.45" y1="605.75" x2="102.55" y2="605.75" stroke="#2b2b2b" stroke-width="1.2"/>
<rect x="108.20" y="568.35" width="9.60" height="42.50" fill="#6aa846"/>
<rect x="108.20" y="568.35" width="0.70" height="42.50" fill="#58a032"/>
<rect x="117.10" y="568.35" width="0.70" height="42.50" fill="#58a032"/>
<rect x="108.20" y="568.35" width="9.60" height="0.60" fill="#58a032"/>
<line x1="113.00" y1="562.70" x2="113.00" y2="568.35" stroke="#2b2b2b" stroke-width="1.3"/>
<line x1="110.95" y1="563.00" x2="115.05" y2="563.00" stroke="#2b2b2b" stroke-width="1.2"/>
<rect x="120.70" y="572.50" width="9.60" height="38.35" fill="#56265f"/>
<rect x="120.70" y="572.50" width="0.70" height="38.35" fill="#4a1a56"/>
<rect x="129.60" y="572.50" width="0.70" height="38.35" fill="#4a1a56"/>
<rect x="120.70" y="572.50" width="9.60" height="0.60" fill="#4a1a56"/>
<line x1="125.50" y1="568.70" x2="125.50" y2="572.50" stroke="#2b2b2b" stroke-width="1.3"/>
<line x1="123.45" y1="569.00" x2="127.55" y2="569.00" stroke="#2b2b2b" stroke-width="1.2"/>
<rect x="159.10" y="570.25" width="9.60" height="40.60" fill="#a5002f"/>
<rect x="159.10" y="570.25" width="0.70" height="40.60" fill="#9e0029"/>
<rect x="168.00" y="570.25" width="0.70" height="40.60" fill="#9e0029"/>
<rect x="159.10" y="570.25" width="9.60" height="0.60" fill="#9e0029"/>
<line x1="163.90" y1="562.60" x2="163.90" y2="570.25" stroke="#2b2b2b" stroke-width="1.3"/>
<line x1="161.85" y1="562.90" x2="165.95" y2="562.90" stroke="#2b2b2b" stroke-width="1.2"/>
<rect x="171.50" y="598.35" width="9.60" height="12.50" fill="#2f4f82"/>
<rect x="171.50" y="598.35" width="0.70" height="12.50" fill="#1f3f7a"/>
<rect x="180.40" y="598.35" width="0.70" height="12.50" fill="#1f3f7a"/>
<rect x="171.50" y="598.35" width="9.60" height="0.60" fill="#1f3f7a"/>
<line x1="176.30" y1="594.70" x2="176.30" y2="598.35" stroke="#2b2b2b" stroke-width="1.3"/>
<line x1="174.25" y1="595.00" x2="178.35" y2="595.00" stroke="#2b2b2b" stroke-width="1.2"/>
<rect x="184.20" y="565.25" width="9.30" height="45.60" fill="#6aa846"/>
<rect x="184.20" y="565.25" width="0.70" height="45.60" fill="#58a032"/>
<rect x="192.80" y="565.25" width="0.70" height="45.60" fill="#58a032"/>
<rect x="184.20" y="565.25" width="9.30" height="0.60" fill="#58a032"/>
<line x1="188.85" y1="560.80" x2="188.85" y2="565.25" stroke="#2b2b2b" stroke-width="1.3"/>
<line x1="186.80" y1="561.10" x2="190.90" y2="561.10" stroke="#2b2b2b" stroke-width="1.2"/>
<rect x="196.80" y="564.05" width="9.60" height="46.80" fill="#56265f"/>
<rect x="196.80" y="564.05" width="0.70" height="46.80" fill="#4a1a56"/>
<rect x="205.70" y="564.05" width="0.70" height="46.80" fill="#4a1a56"/>
<rect x="196.80" y="564.05" width="9.60" height="0.60" fill="#4a1a56"/>
<line x1="201.60" y1="559.60" x2="201.60" y2="564.05" stroke="#2b2b2b" stroke-width="1.3"/>
<line x1="199.55" y1="559.90" x2="203.65" y2="559.90" stroke="#2b2b2b" stroke-width="1.2"/>
<circle cx="164.00" cy="556.00" r="1.3" fill="#333"/>
<circle cx="176.30" cy="587.90" r="1.3" fill="#333"/>
<circle cx="201.60" cy="553.30" r="1.3" fill="#333"/>
<line x1="297.40" y1="436.90" x2="297.40" y2="611.62" stroke="#262626" stroke-width="1.55"/>
<line x1="296.62" y1="610.85" x2="512.00" y2="610.85" stroke="#262626" stroke-width="1.55"/>
<line x1="293.80" y1="610.85" x2="297.40" y2="610.85" stroke="#231f20" stroke-width="1.0"/>
<path d="M289.60,611.35V607.33L288.93,608.01" fill="none" stroke="#231f20" stroke-width="0.95" stroke-linejoin="miter"/>
<path d="M281.20,615.20V610.14L280.08,611.02" fill="none" stroke="#231f20" stroke-width="1.1" stroke-linejoin="miter"/>
<ellipse cx="285.25" cy="612.45" rx="1.50" ry="2.20" fill="none" stroke="#231f20" stroke-width="1.1"/>
<line x1="293.80" y1="585.80" x2="297.40" y2="585.80" stroke="#231f20" stroke-width="1.0"/>
<text transform="translate(287.29,586.30) scale(0.975,1)" font-family='"Liberation Sans", sans-serif' font-size="6.30" fill="#231f20" style="stroke-width:0.3px">2</text>
<path d="M280.20,590.15V585.09L279.08,585.97" fill="none" stroke="#231f20" stroke-width="1.1" stroke-linejoin="miter"/>
<ellipse cx="284.25" cy="587.40" rx="1.50" ry="2.20" fill="none" stroke="#231f20" stroke-width="1.1"/>
<line x1="293.80" y1="560.75" x2="297.40" y2="560.75" stroke="#231f20" stroke-width="1.0"/>
<text transform="translate(287.38,561.25) scale(0.937,1)" font-family='"Liberation Sans", sans-serif' font-size="6.30" fill="#231f20" style="stroke-width:0.3px">3</text>
<path d="M280.20,565.10V560.04L279.08,560.92" fill="none" stroke="#231f20" stroke-width="1.1" stroke-linejoin="miter"/>
<ellipse cx="284.25" cy="562.35" rx="1.50" ry="2.20" fill="none" stroke="#231f20" stroke-width="1.1"/>
<line x1="293.80" y1="535.70" x2="297.40" y2="535.70" stroke="#231f20" stroke-width="1.0"/>
<text transform="translate(287.47,536.20) scale(0.869,1)" font-family='"Liberation Sans", sans-serif' font-size="6.40" fill="#231f20" style="stroke-width:0.3px">4</text>
<path d="M280.20,540.05V534.99L279.08,535.87" fill="none" stroke="#231f20" stroke-width="1.1" stroke-linejoin="miter"/>
<ellipse cx="284.25" cy="537.30" rx="1.50" ry="2.20" fill="none" stroke="#231f20" stroke-width="1.1"/>
<line x1="293.80" y1="510.65" x2="297.40" y2="510.65" stroke="#231f20" stroke-width="1.0"/>
<text transform="translate(287.36,511.15) scale(0.923,1)" font-family='"Liberation Sans", sans-serif' font-size="6.40" fill="#231f20" style="stroke-width:0.3px">5</text>
<path d="M280.20,515.00V509.94L279.08,510.82" fill="none" stroke="#231f20" stroke-width="1.1" stroke-linejoin="miter"/>
<ellipse cx="284.25" cy="512.25" rx="1.50" ry="2.20" fill="none" stroke="#231f20" stroke-width="1.1"/>
<line x1="293.80" y1="485.60" x2="297.40" y2="485.60" stroke="#231f20" stroke-width="1.0"/>
<text transform="translate(287.29,486.10) scale(0.963,1)" font-family='"Liberation Sans", sans-serif' font-size="6.30" fill="#231f20" style="stroke-width:0.3px">6</text>
<path d="M280.20,489.95V484.89L279.08,485.77" fill="none" stroke="#231f20" stroke-width="1.1" stroke-linejoin="miter"/>
<ellipse cx="284.25" cy="487.20" rx="1.50" ry="2.20" fill="none" stroke="#231f20" stroke-width="1.1"/>
<line x1="293.80" y1="460.55" x2="297.40" y2="460.55" stroke="#231f20" stroke-width="1.0"/>
<text transform="translate(287.28,461.05) scale(0.963,1)" font-family='"Liberation Sans", sans-serif' font-size="6.40" fill="#231f20" style="stroke-width:0.3px">7</text>
<path d="M280.20,464.90V459.84L279.08,460.72" fill="none" stroke="#231f20" stroke-width="1.1" stroke-linejoin="miter"/>
<ellipse cx="284.25" cy="462.15" rx="1.50" ry="2.20" fill="none" stroke="#231f20" stroke-width="1.1"/>
<line x1="367.75" y1="610.85" x2="367.75" y2="614.05" stroke="#231f20" stroke-width="0.9"/>
<line x1="443.50" y1="610.85" x2="443.50" y2="614.05" stroke="#231f20" stroke-width="0.9"/>
<rect x="344.30" y="595.00" width="9.50" height="15.85" fill="#a5002f"/>
<rect x="344.30" y="595.00" width="0.70" height="15.85" fill="#9e0029"/>
<rect x="353.10" y="595.00" width="0.70" height="15.85" fill="#9e0029"/>
<rect x="344.30" y="595.00" width="9.50" height="0.60" fill="#9e0029"/>
<line x1="349.05" y1="588.95" x2="349.05" y2="595.00" stroke="#2b2b2b" stroke-width="1.3"/>
<line x1="347.00" y1="589.25" x2="351.10" y2="589.25" stroke="#2b2b2b" stroke-width="1.2"/>
<rect x="356.90" y="601.50" width="9.40" height="9.35" fill="#2f4f82"/>
<rect x="356.90" y="601.50" width="0.70" height="9.35" fill="#1f3f7a"/>
<rect x="365.60" y="601.50" width="0.70" height="9.35" fill="#1f3f7a"/>
<rect x="356.90" y="601.50" width="9.40" height="0.60" fill="#1f3f7a"/>
<line x1="361.60" y1="596.45" x2="361.60" y2="601.50" stroke="#2b2b2b" stroke-width="1.3"/>
<line x1="359.55" y1="596.75" x2="363.65" y2="596.75" stroke="#2b2b2b" stroke-width="1.2"/>
<rect x="369.40" y="585.00" width="9.40" height="25.85" fill="#6aa846"/>
<rect x="369.40" y="585.00" width="0.70" height="25.85" fill="#58a032"/>
<rect x="378.10" y="585.00" width="0.70" height="25.85" fill="#58a032"/>
<rect x="369.40" y="585.00" width="9.40" height="0.60" fill="#58a032"/>
<line x1="374.10" y1="578.30" x2="374.10" y2="585.00" stroke="#2b2b2b" stroke-width="1.3"/>
<line x1="372.05" y1="578.60" x2="376.15" y2="578.60" stroke="#2b2b2b" stroke-width="1.2"/>
<rect x="381.90" y="583.35" width="9.70" height="27.50" fill="#56265f"/>
<rect x="381.90" y="583.35" width="0.70" height="27.50" fill="#4a1a56"/>
<rect x="390.90" y="583.35" width="0.70" height="27.50" fill="#4a1a56"/>
<rect x="381.90" y="583.35" width="9.70" height="0.60" fill="#4a1a56"/>
<line x1="386.75" y1="574.80" x2="386.75" y2="583.35" stroke="#2b2b2b" stroke-width="1.3"/>
<line x1="384.70" y1="575.10" x2="388.80" y2="575.10" stroke="#2b2b2b" stroke-width="1.2"/>
<rect x="419.70" y="578.00" width="9.75" height="32.85" fill="#a5002f"/>
<rect x="419.70" y="578.00" width="0.70" height="32.85" fill="#9e0029"/>
<rect x="428.75" y="578.00" width="0.70" height="32.85" fill="#9e0029"/>
<rect x="419.70" y="578.00" width="9.75" height="0.60" fill="#9e0029"/>
<line x1="424.57" y1="572.10" x2="424.57" y2="578.00" stroke="#2b2b2b" stroke-width="1.3"/>
<line x1="422.52" y1="572.40" x2="426.62" y2="572.40" stroke="#2b2b2b" stroke-width="1.2"/>
<rect x="432.40" y="589.25" width="9.40" height="21.60" fill="#2f4f82"/>
<rect x="432.40" y="589.25" width="0.70" height="21.60" fill="#1f3f7a"/>
<rect x="441.10" y="589.25" width="0.70" height="21.60" fill="#1f3f7a"/>
<rect x="432.40" y="589.25" width="9.40" height="0.60" fill="#1f3f7a"/>
<line x1="437.10" y1="584.60" x2="437.10" y2="589.25" stroke="#2b2b2b" stroke-width="1.3"/>
<line x1="435.05" y1="584.90" x2="439.15" y2="584.90" stroke="#2b2b2b" stroke-width="1.2"/>
<rect x="444.70" y="573.75" width="9.75" height="37.10" fill="#6aa846"/>
<rect x="444.70" y="573.75" width="0.70" height="37.10" fill="#58a032"/>
<rect x="453.75" y="573.75" width="0.70" height="37.10" fill="#58a032"/>
<rect x="444.70" y="573.75" width="9.75" height="0.60" fill="#58a032"/>
<line x1="449.57" y1="566.45" x2="449.57" y2="573.75" stroke="#2b2b2b" stroke-width="1.3"/>
<line x1="447.52" y1="566.75" x2="451.62" y2="566.75" stroke="#2b2b2b" stroke-width="1.2"/>
<rect x="457.40" y="575.25" width="9.55" height="35.60" fill="#56265f"/>
<rect x="457.40" y="575.25" width="0.70" height="35.60" fill="#4a1a56"/>
<rect x="466.25" y="575.25" width="0.70" height="35.60" fill="#4a1a56"/>
<rect x="457.40" y="575.25" width="9.55" height="0.60" fill="#4a1a56"/>
<line x1="462.18" y1="570.60" x2="462.18" y2="575.25" stroke="#2b2b2b" stroke-width="1.3"/>
<line x1="460.12" y1="570.90" x2="464.23" y2="570.90" stroke="#2b2b2b" stroke-width="1.2"/>
<circle cx="424.75" cy="566.50" r="1.3" fill="#333"/>
<circle cx="437.10" cy="578.10" r="1.3" fill="#333"/>
<text transform="translate(9.28,18.50) scale(0.888,1)" font-family='"Liberation Sans", sans-serif' font-size="12.06" fill="#000" style="stroke:#000;stroke-width:0.4px">A</text>
<text transform="translate(263.22,18.50) scale(0.888,1)" font-family='"Liberation Sans", sans-serif' font-size="12.06" fill="#000" style="stroke:#000;stroke-width:0.4px">B</text>
<text transform="translate(9.20,218.50) scale(0.768,1)" font-family='"Liberation Sans", sans-serif' font-size="12.75" fill="#000" style="stroke:#000;stroke-width:0.4px">C</text>
<text transform="translate(262.20,218.50) scale(0.878,1)" font-family='"Liberation Sans", sans-serif' font-size="12.50" fill="#000" style="stroke:#000;stroke-width:0.4px">D</text>
<text transform="translate(9.97,430.90) scale(0.717,1)" font-family='"Liberation Sans", sans-serif' font-size="12.35" fill="#000" style="stroke:#000;stroke-width:0.4px">E</text>
<text transform="translate(263.16,430.80) scale(0.737,1)" font-family='"Liberation Sans", sans-serif' font-size="12.21" fill="#000" style="stroke:#000;stroke-width:0.4px">F</text>
<text transform="translate(64.41,36.60) scale(0.929,1)" font-family='"Liberation Sans", sans-serif' font-size="7.78" fill="#231f20">EV &lt; 200 nm (P1)</text>
<text transform="translate(322.41,35.90) scale(0.923,1)" font-family='"Liberation Sans", sans-serif' font-size="7.85" fill="#231f20">EVs ≥ 200 nm (P2)</text>
<text transform="translate(61.04,238.40) scale(0.817,1)" font-family='"Liberation Sans", sans-serif' font-size="8.56" fill="#231f20">Total EVs</text>
<text transform="translate(321.26,236.60) scale(0.815,1)" font-family='"Liberation Sans", sans-serif' font-size="8.14" fill="#231f20">RBC-EVs</text>
<text transform="translate(61.05,451.80) scale(0.908,1)" font-family='"Liberation Sans", sans-serif' font-size="8.00" fill="#231f20">Platelet-EVs</text>
<text transform="translate(321.77,451.20) scale(0.826,1)" font-family='"Liberation Sans", sans-serif' font-size="8.14" fill="#231f20">WBC-EVs</text>
<text transform="translate(16.50,175.21) rotate(-90) scale(0.878,1)" font-family='"Liberation Sans", sans-serif' font-size="10.76" fill="#231f20">TRPS_EVs concentration (#/mL)</text>
<text transform="translate(271.00,174.81) rotate(-90) scale(0.877,1)" font-family='"Liberation Sans", sans-serif' font-size="10.76" fill="#231f20">TRPS_EVs concentration (#/mL)</text>
<text transform="translate(17.40,354.48) rotate(-90) scale(0.881,1)" font-family='"Liberation Sans", sans-serif' font-size="10.76" fill="#231f20">FC_total EVs (#/µL)</text>
<text transform="translate(271.20,353.03) rotate(-90) scale(0.829,1)" font-family='"Liberation Sans", sans-serif' font-size="10.76" fill="#231f20">FC_RBC-EVs (#/µL)</text>
<text transform="translate(17.30,573.17) rotate(-90) scale(0.871,1)" font-family='"Liberation Sans", sans-serif' font-size="10.76" fill="#231f20">FC_ platelet EVs (#/µL)</text>
<text transform="translate(271.20,565.65) rotate(-90) scale(0.852,1)" font-family='"Liberation Sans", sans-serif' font-size="10.76" fill="#231f20">FC_WBC EVs (#/µL)</text>
<text transform="translate(96.40,201.80) scale(0.937,1)" font-family='"Liberation Sans", sans-serif' font-size="8.43" fill="#231f20">Day 5</text>
<text transform="translate(167.75,201.80) scale(0.945,1)" font-family='"Liberation Sans", sans-serif' font-size="8.43" fill="#231f20">Day 42</text>
<text transform="translate(357.24,201.70) scale(0.953,1)" font-family='"Liberation Sans", sans-serif' font-size="8.43" fill="#231f20">Day 5</text>
<text transform="translate(430.85,201.70) scale(0.934,1)" font-family='"Liberation Sans", sans-serif' font-size="8.43" fill="#231f20">Day 42</text>
<text transform="translate(96.40,414.40) scale(0.937,1)" font-family='"Liberation Sans", sans-serif' font-size="8.43" fill="#231f20">Day 5</text>
<text transform="translate(170.05,414.40) scale(0.942,1)" font-family='"Liberation Sans", sans-serif' font-size="8.43" fill="#231f20">Day 42</text>
<text transform="translate(355.56,414.40) scale(0.930,1)" font-family='"Liberation Sans", sans-serif' font-size="8.43" fill="#231f20">Day 5</text>
<text transform="translate(433.95,414.40) scale(0.945,1)" font-family='"Liberation Sans", sans-serif' font-size="8.43" fill="#231f20">Day 42</text>
<text transform="translate(96.46,624.70) scale(0.930,1)" font-family='"Liberation Sans", sans-serif' font-size="8.43" fill="#231f20">Day 5</text>
<text transform="translate(170.05,624.70) scale(0.942,1)" font-family='"Liberation Sans", sans-serif' font-size="8.43" fill="#231f20">Day 42</text>
<text transform="translate(357.46,624.50) scale(0.920,1)" font-family='"Liberation Sans", sans-serif' font-size="8.43" fill="#231f20">Day 5</text>
<text transform="translate(431.15,624.50) scale(0.942,1)" font-family='"Liberation Sans", sans-serif' font-size="8.43" fill="#231f20">Day 42</text>
<text transform="translate(86.47,639.10) scale(1.071,1)" font-family='"Liberation Sans", sans-serif' font-size="9.45" fill="#231f20">Hypothermic storage time</text>
<text transform="translate(347.27,639.10) scale(1.067,1)" font-family='"Liberation Sans", sans-serif' font-size="9.45" fill="#231f20">Hypothermic storage time</text>
<ellipse cx="113.90" cy="73.23" rx="1.57" ry="1.75" fill="none" stroke="#231f20" stroke-width="0.95"/>
<path d="M113.70,71.58 C112.20,70.88 112.40,69.95 114.00,70.00 C114.80,70.00 115.20,70.25 115.40,70.60" fill="none" stroke="#231f20" stroke-width="0.75" stroke-linecap="round"/>
<text transform="translate(106.12,85.25) scale(0.868,1)" font-family='"Liberation Sans", sans-serif' font-size="8.29" fill="#231f20">WBD</text>
<ellipse cx="186.82" cy="47.32" rx="1.60" ry="1.75" fill="none" stroke="#231f20" stroke-width="0.95"/>
<path d="M186.62,45.67 C185.12,44.97 185.32,43.55 186.92,43.60 C187.72,43.60 188.12,43.85 188.34,44.20" fill="none" stroke="#231f20" stroke-width="0.75" stroke-linecap="round"/>
<text transform="translate(171.22,58.90) scale(0.957,1)" font-family='"Liberation Sans", sans-serif' font-size="7.56" fill="#231f20">WBD</text>
<text transform="translate(187.38,58.60) scale(1.290,1)" font-family='"Liberation Sans", sans-serif' font-size="7.90" fill="#231f20">,</text>
<text transform="translate(189.67,58.90) scale(0.773,1)" font-family='"Liberation Sans", sans-serif' font-size="7.56" fill="#231f20">RCF</text>
<ellipse cx="449.70" cy="76.93" rx="1.38" ry="1.75" fill="none" stroke="#231f20" stroke-width="0.95"/>
<path d="M449.50,75.28 C448.00,74.58 448.20,73.85 449.80,73.90 C450.60,73.90 451.00,74.15 451.01,74.50" fill="none" stroke="#231f20" stroke-width="0.75" stroke-linecap="round"/>
<text transform="translate(442.22,88.55) scale(0.881,1)" font-family='"Liberation Sans", sans-serif' font-size="7.56" fill="#231f20">WBF</text>
<ellipse cx="101.20" cy="261.02" rx="1.48" ry="1.75" fill="none" stroke="#231f20" stroke-width="0.95"/>
<path d="M101.00,259.38 C99.50,258.67 99.70,257.85 101.30,257.90 C102.10,257.90 102.50,258.15 102.60,258.50" fill="none" stroke="#231f20" stroke-width="0.75" stroke-linecap="round"/>
<text transform="translate(95.44,272.95) scale(0.966,1)" font-family='"Liberation Sans", sans-serif' font-size="7.56" fill="#231f20">AD,</text>
<text transform="translate(94.12,282.75) scale(0.824,1)" font-family='"Liberation Sans", sans-serif' font-size="8.14" fill="#231f20">WBF</text>
<ellipse cx="372.25" cy="318.12" rx="1.52" ry="1.75" fill="none" stroke="#231f20" stroke-width="0.95"/>
<path d="M372.05,316.47 C370.55,315.77 370.75,315.15 372.35,315.20 C373.15,315.20 373.55,315.45 373.70,315.80" fill="none" stroke="#231f20" stroke-width="0.75" stroke-linecap="round"/>
<text transform="translate(357.22,329.75) scale(0.883,1)" font-family='"Liberation Sans", sans-serif' font-size="7.12" fill="#231f20">WBF</text>
<text transform="translate(371.68,329.50) scale(1.290,1)" font-family='"Liberation Sans", sans-serif' font-size="7.90" fill="#231f20">,</text>
<text transform="translate(374.99,329.75) scale(0.792,1)" font-family='"Liberation Sans", sans-serif' font-size="7.12" fill="#231f20">RCF</text>
<ellipse cx="427.00" cy="298.52" rx="1.48" ry="1.75" fill="none" stroke="#231f20" stroke-width="0.95"/>
<path d="M426.80,296.88 C425.30,296.17 425.50,295.25 427.10,295.30 C427.90,295.30 428.30,295.55 428.40,295.90" fill="none" stroke="#231f20" stroke-width="0.75" stroke-linecap="round"/>
<text transform="translate(418.42,310.25) scale(0.910,1)" font-family='"Liberation Sans", sans-serif' font-size="7.99" fill="#231f20">WBD</text>
<ellipse cx="100.55" cy="533.92" rx="1.83" ry="1.75" fill="none" stroke="#231f20" stroke-width="0.95"/>
<path d="M100.35,532.27 C98.85,531.57 99.05,530.75 100.65,530.80 C101.45,530.80 101.85,531.05 102.28,531.40" fill="none" stroke="#231f20" stroke-width="0.75" stroke-linecap="round"/>
<text transform="translate(95.24,545.85) scale(0.858,1)" font-family='"Liberation Sans", sans-serif' font-size="8.14" fill="#231f20">AD,</text>
<text transform="translate(93.32,555.75) scale(0.843,1)" font-family='"Liberation Sans", sans-serif' font-size="7.85" fill="#231f20">WBF</text>
<ellipse cx="176.20" cy="531.22" rx="1.48" ry="1.75" fill="none" stroke="#231f20" stroke-width="0.95"/>
<path d="M176.00,529.57 C174.50,528.87 174.70,527.95 176.30,528.00 C177.10,528.00 177.50,528.25 177.60,528.60" fill="none" stroke="#231f20" stroke-width="0.75" stroke-linecap="round"/>
<text transform="translate(171.04,543.15) scale(0.866,1)" font-family='"Liberation Sans", sans-serif' font-size="7.99" fill="#231f20">AD,</text>
<text transform="translate(169.32,553.05) scale(0.807,1)" font-family='"Liberation Sans", sans-serif' font-size="8.14" fill="#231f20">WBF</text>
<rect x="0.00" y="0.00" width="1.40" height="650.00" fill="#000000"/>
<rect x="0.00" y="0.00" width="520.00" height="1.60" fill="#404040"/>
<rect x="519.00" y="0.00" width="1.00" height="1.00" fill="#9a9a9a"/>
<rect x="518.20" y="1.00" width="1.80" height="649.00" fill="#404040"/>
<rect x="0.00" y="648.20" width="520.00" height="1.80" fill="#2a2a2a"/>
</svg>
</body></html>
